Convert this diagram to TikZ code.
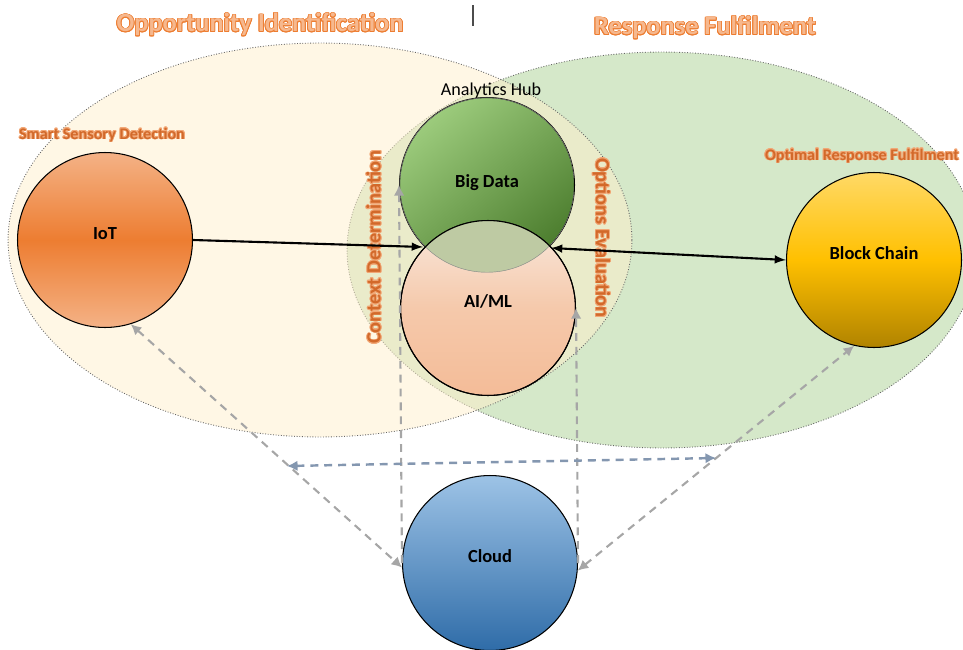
\documentclass[tikz,border=0pt]{standalone}
\usepackage{fontspec}
\setmainfont{Carlito}
\usepackage{xcolor}
\usepackage{contour}
\contourlength{0.45pt}
\usepackage{tikz}
\usetikzlibrary{arrows,arrows.meta,positioning,shapes.geometric}

\definecolor{oppfill}{HTML}{FFEFCB}
\definecolor{respfill}{HTML}{D5E8C9}
\definecolor{titlefill}{HTML}{F6B88E}
\definecolor{titleline}{HTML}{ED7D31}
\definecolor{tagfill}{HTML}{D2692A}
\definecolor{tagline}{HTML}{F2A877}
\definecolor{iotlight}{HTML}{F4B286}
\definecolor{iotdark}{HTML}{ED7D31}
\definecolor{bdlight}{HTML}{9CCB7C}
\definecolor{bddark}{HTML}{4C7D2E}
\definecolor{aitop}{HTML}{F9E8DD}
\definecolor{aimid}{HTML}{F5C9AB}
\definecolor{aibot}{HTML}{F4BC98}
\definecolor{lensfill}{HTML}{BECAA3}
\definecolor{bctop}{HTML}{FFD966}
\definecolor{bcmid}{HTML}{FFC000}
\definecolor{bcbot}{HTML}{B08300}
\definecolor{cltop}{HTML}{9DC3E6}
\definecolor{clbot}{HTML}{2F6CA8}
\definecolor{linkgray}{HTML}{A6A6A6}
\definecolor{busblue}{HTML}{8497B0}

\begin{document}
\begin{tikzpicture}[x=0.02cm, y=-0.02cm,
    bubble/.style={draw, circle, line width=0.6pt, minimum size=3.5cm, inner sep=0pt,
        text height=0.25cm, text depth=0.29cm, font=\bfseries\fontsize{10.5}{12}\selectfont},
    area/.style={draw=black!60, densely dotted, line width=0.5pt},
    bigtitle/.style={text=titlefill, font=\bfseries\fontsize{15}{17}\selectfont},
    tag/.style={text=tagfill, font=\bfseries\fontsize{9.2}{11}\selectfont},
    sidetag/.style={text=tagfill, font=\bfseries\fontsize{11.6}{13}\selectfont},
    link/.style={line width=1.2pt},
    cloudlink/.style={linkgray, line width=1.2pt, dash pattern=on 4.5pt off 3.4pt},
    busline/.style={busblue, line width=1.4pt, dash pattern=on 4.5pt off 3.4pt,
        {Latex[length=6pt,width=6pt]}-{Latex[length=6pt,width=6pt]}}]
    \useasboundingbox (0,0) rectangle (963,649);

    % Phase areas
    \fill[respfill] (662,250) ellipse [x radius=6.3cm, y radius=3.96cm];
    \draw[area] (662,250) ellipse [x radius=6.3cm, y radius=3.96cm];
    \fill[oppfill, fill opacity=0.5] (320,240) ellipse [x radius=6.24cm, y radius=3.94cm];
    \draw[area] (320,240) ellipse [x radius=6.24cm, y radius=3.94cm];

    % Phase titles
    \node[bigtitle] (opptitle) at (260,25) {\contour{titleline}{Opportunity Identification}};
    \node[bigtitle] (resptitle) at (705,28) {\contour{titleline}{Response Fulfilment}};
    \node[tag] (sensetag) at (102,135) {\contour{tagline}{Smart Sensory Detection}};
    \node[tag, anchor=east, inner sep=1pt] (optimaltag) at (961,156) {\contour{tagline}{Optimal Response Fulfilment}};
    \node[font=\fontsize{10.3}{12}\selectfont] (hubtag) at (491,91) {Analytics Hub};
    \node[sidetag, rotate=90] (contexttag) at (374,247) {\contour{tagline}{Context Determination}};
    \node[sidetag, rotate=-90] (optionstag) at (601,238) {\contour{tagline}{Options Evaluation}};
    \draw[black!70, line width=0.8pt] (473,5) -- (473,26);

    % Technology bubbles
    \node[bubble, top color=iotlight, bottom color=iotlight, middle color=iotdark] (iot) at (105,240) {IoT};
    \node[bubble, top color=bctop, bottom color=bcbot, middle color=bcmid] (chain) at (874,260) {Block Chain};
    \node[bubble, top color=bdlight, bottom color=bddark, shading angle=40] (bigdata) at (487,185) {};
    \node[bubble, top color=aitop, bottom color=aibot, middle color=aimid] (aiml) at (488,308) {AI/ML};
    \begin{scope}
        \clip (bigdata.center) circle (1.75cm);
        \fill[lensfill] (aiml.center) circle (1.75cm);
        \draw[black!45, line width=0.5pt] (bigdata.center) circle (1.75cm);
    \end{scope}
    \draw[line width=0.6pt] (aiml.center) circle (1.75cm);
    \node[font=\bfseries\fontsize{10.5}{12}\selectfont] (bigdatatext) at (487,183) {Big Data};
    \node[bubble, top color=cltop, bottom color=clbot] (cloud) at (490,563) {Cloud};

    % Hub entry points
    \coordinate (hubleft) at (423,247);
    \coordinate (hubright) at (551,248);
    \coordinate (busleft) at (287,466);
    \coordinate (busright) at (716,458);

    % Data flow
    \draw[link, -latex] (iot.east) -- (hubleft);
    \draw[link, latex-latex] (hubright) -- (chain.west);

    % Cloud links
    \draw[cloudlink, {Latex[length=6pt,width=6pt]}-{Latex[length=6pt,width=6pt]}] (iot.-73) -- (cloud.183);
    \draw[cloudlink, {Latex[length=6pt,width=6pt]}-{Latex[length=6pt,width=6pt]}] (cloud.-5) -- (chain.-103);
    \draw[cloudlink, -{Latex[length=6pt,width=6pt]}] (cloud.west) -- (bigdata.west);
    \draw[cloudlink, -{Latex[length=6pt,width=6pt]}] (cloud.east) -- (aiml.east);
    \draw[busline] (busleft) -- (busright);
\end{tikzpicture}
\end{document}
